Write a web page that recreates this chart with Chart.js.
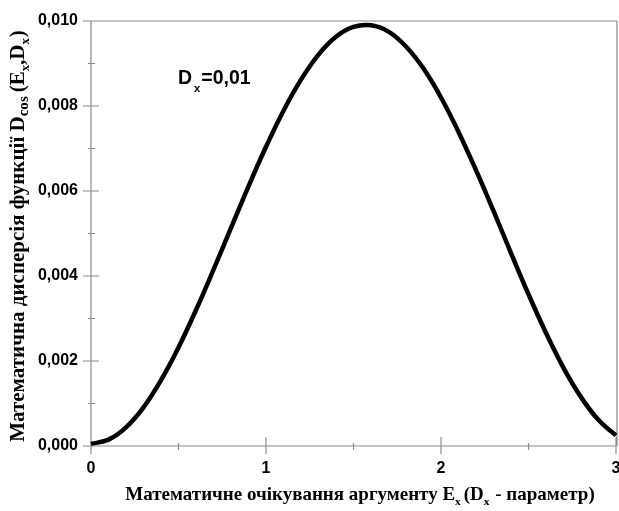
<!DOCTYPE html>
<html lang="uk">
<head>
<meta charset="UTF-8">
<title>Dcos(Ex,Dx)</title>
<script src="https://cdn.jsdelivr.net/npm/chart.js@4.4.1/dist/chart.umd.min.js"></script>
<style>
  html, body { margin: 0; padding: 0; background: #fff; }
  #wrap { width: 619px; height: 511px; }
</style>
</head>
<body>
<div id="wrap"><canvas id="chart"></canvas></div>
<script>
// values
const ex = [0, 0.1, 0.2, 0.3, 0.4, 0.5, 0.6, 0.7, 0.8, 0.9, 1.0,
            1.1, 1.2, 1.3, 1.4, 1.5, 1.6, 1.7, 1.8, 1.9, 2.0,
            2.1, 2.2, 2.3, 2.4, 2.5, 2.6, 2.7, 2.8, 2.9, 3.0];
const dcos = [0.00005, 0.00015, 0.00044, 0.00091, 0.00155, 0.00232, 0.00320, 0.00415, 0.00513, 0.00611, 0.00704,
              0.00789, 0.00862, 0.00921, 0.00963, 0.00986, 0.00990, 0.00975, 0.00940, 0.00888, 0.00820,
              0.00739, 0.00649, 0.00553, 0.00454, 0.00357, 0.00266, 0.00184, 0.00115, 0.00061, 0.00025];
const xTicks = [0, 1, 2, 3];
const xMinor = [0.5, 1.5, 2.5];
const yTicks = [0, 0.002, 0.004, 0.006, 0.008, 0.010];
const yMinor = [0.001, 0.003, 0.005, 0.007, 0.009];

const points = ex.map((x, i) => ({ x: x, y: dcos[i] }));

// draws a string made of parts, some of them as subscripts
function richText(ctx, parts, x, y, size, family, measureOnly) {
  let cx = x;
  parts.forEach(p => {
    const s = size * (p.scale || 1);
    ctx.font = 'bold ' + s + 'px ' + family;
    if (!measureOnly) ctx.fillText(p.t, cx, y + (p.dy || 0));
    cx += ctx.measureText(p.t).width + (p.gap || 0);
  });
  return cx - x;
}

const frame = {
  id: 'frame',
  beforeDatasetsDraw(chart) {
    const ctx = chart.ctx;
    const xs = chart.scales.x, ys = chart.scales.y;
    const L = xs.getPixelForValue(0), R = xs.getPixelForValue(3);
    const B = ys.getPixelForValue(0), T = ys.getPixelForValue(0.010);
    ctx.save();
    ctx.strokeStyle = '#8a8a8a';
    ctx.lineWidth = 1.2;
    ctx.beginPath();
    ctx.moveTo(L, B); ctx.lineTo(R, B);
    ctx.moveTo(L, B); ctx.lineTo(L, T);
    ctx.moveTo(L - 8, T); ctx.lineTo(R + 1, T);
    ctx.moveTo(R + 1, T); ctx.lineTo(R + 1, B);
    yTicks.forEach(v => { const p = ys.getPixelForValue(v); ctx.moveTo(L - 8, p); ctx.lineTo(L + 8, p); });
    yMinor.forEach(v => { const p = ys.getPixelForValue(v); ctx.moveTo(L - 3, p); ctx.lineTo(L + 4, p); });
    xTicks.forEach(v => { const p = xs.getPixelForValue(v); ctx.moveTo(p, B + 8); ctx.lineTo(p, B - 9); });
    xMinor.forEach(v => { const p = xs.getPixelForValue(v); ctx.moveTo(p, B + 4); ctx.lineTo(p, B - 3); });
    ctx.stroke();
    ctx.restore();
  },
  afterDraw(chart) {
    const ctx = chart.ctx;
    const xs = chart.scales.x, ys = chart.scales.y;
    ctx.save();
    ctx.fillStyle = '#000';
    ctx.textBaseline = 'alphabetic';
    ctx.textAlign = 'left';

    // annotation
    const sans = '"Liberation Sans", Arial, sans-serif';
    const ax = xs.getPixelForValue(0.497), ay = ys.getPixelForValue(0.00852);
    richText(ctx, [{ t: 'D', gap: 2 }, { t: 'x', scale: 0.58, dy: 8, gap: 1 }, { t: '=0,01' }], ax, ay, 19.5, sans);

    // x title
    const serif = '"Liberation Serif", "Times New Roman", serif';
    const xt = [{ t: 'Математичне очікування аргументу E' }, { t: 'x', scale: 0.6, dy: 5, gap: 3 }, { t: '(D' }, { t: 'x', scale: 0.6, dy: 5, gap: 1 }, { t: ' - параметр)' }];
    const xw = richText(ctx, xt, 0, 0, 19, serif, true);
    richText(ctx, xt, 360 - xw / 2, 500, 19, serif);

    // y title
    const yt = [{ t: 'Математична дисперсія функції D' }, { t: 'cos', scale: 0.72, dy: 4, gap: 4 }, { t: '(E' }, { t: 'x', scale: 0.6, dy: 5 }, { t: ',D' }, { t: 'x', scale: 0.6, dy: 5, gap: 1 }, { t: ')' }];
    const yw = richText(ctx, yt, 0, 0, 21, serif, true);
    ctx.translate(24, 236);
    ctx.rotate(-Math.PI / 2);
    richText(ctx, yt, -yw / 2, 0, 21, serif);
    ctx.restore();
  }
};

new Chart(document.getElementById('chart'), {
  type: 'scatter',
  data: {
    datasets: [{
      data: points,
      showLine: true,
      borderColor: '#000',
      borderWidth: 4.5,
      pointRadius: 0,
      tension: 0.4,
      clip: false
    }]
  },
  options: {
    responsive: true,
    maintainAspectRatio: false,
    animation: false,
    layout: { padding: { top: 21, right: 3, left: 0, bottom: 0 } },
    plugins: { legend: { display: false }, tooltip: { enabled: false } },
    scales: {
      x: {
        type: 'linear', min: 0, max: 3,
        grid: { display: false, drawTicks: false },
        border: { display: false },
        afterBuildTicks: s => { s.ticks = xTicks.map(v => ({ value: v })); },
        afterFit: s => { s.height = 65; s.paddingLeft = 0; s.paddingRight = 0; },
        ticks: {
          padding: 13,
          color: '#000',
          font: { family: '"Liberation Sans", Arial, sans-serif', size: 16, weight: 'bold' },
          callback: v => String(v)
        }
      },
      y: {
        type: 'linear', min: 0, max: 0.010,
        grid: { display: false, drawTicks: false },
        border: { display: false },
        afterBuildTicks: s => { s.ticks = yTicks.map(v => ({ value: v })); },
        afterFit: s => { s.width = 91; s.paddingTop = 0; s.paddingBottom = 0; },
        ticks: {
          padding: 13,
          color: '#000',
          font: { family: '"Liberation Sans", Arial, sans-serif', size: 16, weight: 'bold' },
          callback: v => v.toFixed(3).replace('.', ',')
        }
      }
    }
  },
  plugins: [frame]
});
</script>
</body>
</html>
